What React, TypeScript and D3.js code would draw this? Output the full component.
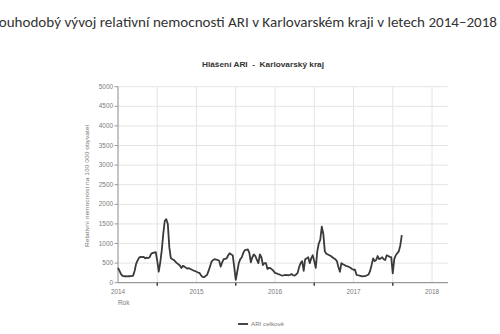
import React from "react";
import * as d3 from "d3";

const pageTitle = "Dlouhodobý vývoj relativní nemocnosti ARI v Karlovarském kraji v letech 2014–2018";
const chartTitle = "Hlášení ARI  -  Karlovarský kraj";
const yAxisTitle = "Relativní nemocnost na 100 000 obyvatel";
const xAxisTitle = "Rok";
const seriesName = "ARI celkově";

const yTicks = [0, 500, 1000, 1500, 2000, 2500, 3000, 3500, 4000, 4500, 5000];
const yearLabels = [2014, 2015, 2016, 2017, 2018];
const yearBoundaries = [2015, 2016, 2017, 2018];
const startYear = 2014.5; // first week of data (week 27 of 2014)

// weekly relative morbidity values per 100 000 inhabitants
const weeklyValues = [
  380, 300, 220, 175, 165, 165, 160, 165, 165, 170,
  180, 300, 480, 570, 640, 660, 650, 660, 620, 640,
  630, 650, 740, 760, 770, 780, 560, 280, 520, 830,
  1250, 1580, 1620, 1500, 900, 630, 600, 580, 540, 500,
  470, 440, 375, 430, 410, 380, 360, 370, 350, 330,
  310, 300, 280, 260, 250, 190, 150, 140, 170, 200,
  300, 420, 540, 580, 600, 590, 580, 560, 410, 520,
  600, 610, 620, 700, 750, 720, 700, 400, 70, 280,
  500, 600, 650, 760, 830, 840, 850, 760, 520, 650,
  720, 680, 580, 500, 720, 650, 450, 500, 500, 350,
  380, 370, 340, 300, 250, 240, 220, 210, 190, 180,
  190, 200, 195, 190, 200, 220, 190, 180, 210, 250,
  400, 500, 550, 300, 600, 620, 650, 500, 620, 700,
  550, 380, 800, 1000, 1100, 1430, 1250, 800, 740, 720,
  700, 680, 650, 620, 600, 550, 400, 280, 500, 470,
  450, 430, 420, 400, 380, 350, 330, 330, 200, 190,
  180, 170, 160, 165, 170, 190, 210, 300, 450, 620,
  550, 580, 680, 600, 620, 650, 600, 580, 700, 680,
  660, 650, 240, 600, 700, 750, 800, 950, 1215,
];

const W = 500;
const H = 334;

export default function App() {
  const x = d3.scaleLinear().domain([2014.5, 2018.5]).range([118, 432]);
  const y = d3.scaleLinear().domain([0, 5000]).range([282.7, 86.7]);
  const xRight = 448;
  const data = weeklyValues.map((v, i) => ({ t: startYear + i / 52, v }));
  const line = d3
    .line<{ t: number; v: number }>()
    .x((d) => x(d.t))
    .y((d) => y(d.v))
    .curve(d3.curveLinear);

  const gridX: number[] = [];
  for (let t = 2014.5; t <= 2018.51; t += 0.5) gridX.push(t);

  const font = "'Liberation Sans', Arial, sans-serif";
  const tickColor = "#7a7a7a";

  return (
    <svg
      width={W}
      height={H}
      style={{ position: "absolute", left: 0, top: 0, background: "#fff" }}
      fontFamily={font}
    >
      <rect x={0} y={0} width={W} height={H} fill="#fff" />
      <text
        x={-14}
        y={27}
        fontSize={14.5}
        fill="#333"
        fontFamily="Carlito, 'Open Sans', 'Liberation Sans', sans-serif"
        textLength={511}
        lengthAdjust="spacingAndGlyphs"
      >
        {pageTitle}
      </text>
      <text
        x={263}
        y={67}
        fontSize={8}
        fontWeight="bold"
        fill="#333"
        textAnchor="middle"
        textLength={122}
        lengthAdjust="spacingAndGlyphs"
        style={{ whiteSpace: "pre" }}
      >
        {chartTitle}
      </text>

      {/* horizontal gridlines */}
      {yTicks.map((t) => (
        <line key={"gy" + t} x1={118} x2={xRight} y1={y(t)} y2={y(t)} stroke="#e4e4e4" strokeWidth={1} />
      ))}
      {/* vertical gridlines */}
      {gridX.map((t) => (
        <line key={"gx" + t} x1={x(t)} x2={x(t)} y1={y(5000)} y2={y(0)} stroke="#e4e4e4" strokeWidth={1} />
      ))}

      {/* axes */}
      <line x1={118} x2={118} y1={y(5000)} y2={y(0)} stroke="#999" strokeWidth={1} />
      <line x1={118} x2={xRight} y1={y(0)} y2={y(0)} stroke="#888" strokeWidth={1} />
      {yTicks.map((t) => (
        <g key={"yt" + t}>
          <line x1={114.5} x2={118} y1={y(t)} y2={y(t)} stroke="#999" />
          <text x={113} y={y(t) + 2} fontSize={6.4} fill={tickColor} textAnchor="end">
            {t}
          </text>
        </g>
      ))}
      {yearBoundaries.map((t) => (
        <line key={"xt" + t} x1={x(t)} x2={x(t)} y1={y(0)} y2={y(0) + 3} stroke="#444" strokeWidth={1.5} />
      ))}
      {yearLabels.map((yr) => (
        <text key={"xl" + yr} x={x(yr + 0.5)} y={294} fontSize={6.4} fill={tickColor} textAnchor="middle">
          {yr}
        </text>
      ))}
      <text x={118} y={305} fontSize={6.4} fill={tickColor}>
        {xAxisTitle}
      </text>
      <text
        transform={`translate(89, 186) rotate(-90)`}
        fontSize={5.8}
        fill={tickColor}
        textAnchor="middle"
        textLength={122}
        lengthAdjust="spacingAndGlyphs"
      >
        {yAxisTitle}
      </text>

      {/* series */}
      <path d={line(data) ?? ""} fill="none" stroke="#3a3a3a" strokeWidth={1.8} strokeLinejoin="round" />

      {/* legend */}
      <line x1={238} x2={248} y1={324} y2={324} stroke="#333" strokeWidth={1.8} />
      <text x={251} y={326} fontSize={6.2} fill={tickColor}>
        {seriesName}
      </text>
    </svg>
  );
}
